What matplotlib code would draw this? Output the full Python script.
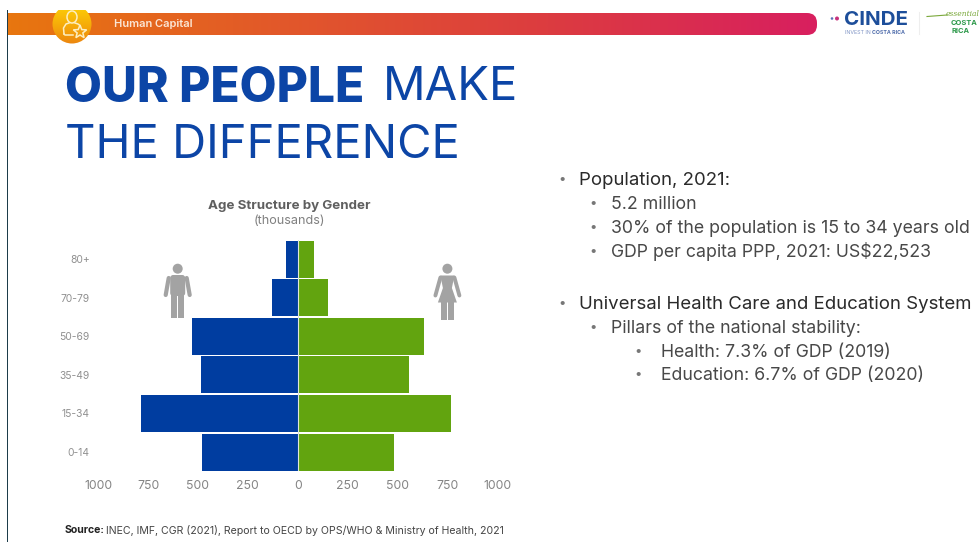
import numpy as np
import matplotlib
matplotlib.use("Agg")
from matplotlib import pyplot as plt
from matplotlib.patches import Circle, Ellipse, FancyBboxPatch, Polygon, Rectangle
from matplotlib.colors import LinearSegmentedColormap

plt.rcParams['font.family'] = ['Inter', 'DejaVu Sans']

age_groups = ['0-14', '15-34', '35-49', '50-69', '70-79', '80+']
men = [480, 785, 485, 532, 127, 59]
women = [483, 767, 558, 633, 153, 82]
x_ticks = [-1000, -750, -500, -250, 0, 250, 500, 750, 1000]
x_labels = ['1000', '750', '500', '250', '0', '250', '500', '750', '1000']

# dot x, baseline y, text x, font size, colour, line
bullets = [
    (562, 185, 579, 13.4, '#2a2a2a', 'Population, 2021:'),
    (593, 209, 611, 12.75, '#484848', '5.2 million'),
    (593, 232.7, 611, 12.75, '#484848', '30% of the population is 15 to 34 years old'),
    (593, 256.7, 611, 12.75, '#484848', 'GDP per capita PPP, 2021: US$22,523'),
    (562, 309, 579, 13.4, '#2a2a2a', 'Universal Health Care and Education System'),
    (593, 332.7, 611, 12.75, '#484848', 'Pillars of the national stability:'),
    (638, 356.7, 661, 12.75, '#484848', 'Health: 7.3% of GDP (2019)'),
    (638, 380, 661, 12.75, '#484848', 'Education: 6.7% of GDP (2020)'),
]

W, H = 980, 542
fig = plt.figure(figsize=(W / 100, H / 100), dpi=100, facecolor='white')

# page layer in pixel units, y pointing down
page = fig.add_axes([0, 0, 1, 1])
page.set_xlim(0, W)
page.set_ylim(H, 0)
page.axis('off')

# header band, square on the left and rounded on the right
band_cmap = LinearSegmentedColormap.from_list('band', ['#e8760f', '#e2582a', '#dc3c40', '#d81f5f'])
band = page.imshow(np.linspace(0, 1, 400).reshape(1, -1), cmap=band_cmap, aspect='auto',
                   extent=(8, 817, 35, 13), zorder=1)
clip = FancyBboxPatch((-20, 13), 837, 22, boxstyle='round,pad=0,rounding_size=10',
                      transform=page.transData, fc='none', ec='none')
page.add_patch(clip)
band.set_clip_path(clip)
page.set_xlim(0, W)
page.set_ylim(H, 0)

# rule down the left edge
page.add_patch(Rectangle((7, 10), 1.3, 532, fc='#1d3c4a', ec='none', zorder=3))

# round badge with a person and a star
gold_cmap = LinearSegmentedColormap.from_list('gold', ['#fbc707', '#f5a80a', '#ec860f'])
badge = page.imshow(np.linspace(0, 1, 100).reshape(-1, 1), cmap=gold_cmap, aspect='auto',
                    extent=(52, 92, 44, 10), zorder=4)
badge_clip = Circle((72, 24), 19.5, transform=page.transData, fc='none', ec='none')
page.add_patch(badge_clip)
badge.set_clip_path(badge_clip)
page.set_xlim(0, W)
page.set_ylim(H, 0)
icon = '#fdeec0'
page.add_patch(Ellipse((72, 17), 10, 12, fc='none', ec=icon, lw=1.1, zorder=5))
page.plot([64, 63.5, 66, 69], [34, 28, 24, 23], color=icon, lw=1.1, zorder=5)
page.plot([75, 78, 80], [23, 24, 25.5], color=icon, lw=1.1, zorder=5)
page.plot([64, 65, 73], [34, 35, 35], color=icon, lw=1.1, zorder=5)
star_a = np.radians(np.arange(10) * 36 - 90)
star_r = np.where(np.arange(10) % 2 == 0, 7, 3)
page.add_patch(Polygon(np.column_stack([80 + star_r * np.cos(star_a), 32 + star_r * np.sin(star_a)]),
                       fc='#f2a00c', ec=icon, lw=1.1, zorder=6))

page.text(114, 24, 'Human Capital', color='#fbe6d5', fontsize=8, fontweight='semibold',
          va='center', ha='left', zorder=5)

# partner logos
page.add_patch(Circle((832, 18.5), 1.3, fc='#5a6fb5', ec='none'))
page.add_patch(Circle((837, 18.5), 2, fc='#c8327c', ec='none'))
page.text(843.5, 20, 'CINDE', color='#1d4e9a', fontsize=14.8, fontweight='bold', va='center', ha='left')
page.text(845, 32.5, 'INVEST IN', color='#7f93c4', fontsize=3.8, va='center', ha='left')
page.text(872, 32.5, 'COSTA RICA', color='#4f6cab', fontsize=3.8, fontweight='bold', va='center', ha='left')
page.plot([919, 919], [12, 34], color='#eeeeee', lw=0.8)
page.text(946, 13.5, 'essential', color='#7aa83a', fontsize=5.4, style='italic', family='DejaVu Serif',
          va='center', ha='left')
page.plot([927, 947], [16.5, 15], color='#7aa83a', lw=0.8)
page.text(951, 23, 'COSTA', color='#2f9a4c', fontsize=5.4, fontweight='bold', va='center', ha='left')
page.text(951, 31, 'RICA', color='#2f9a4c', fontsize=5.4, fontweight='bold', va='center', ha='left')

# headline
navy = '#0c45a6'
page.text(65, 88.5, 'OUR PEOPLE', color=navy, fontsize=34.5, fontweight='extra bold', va='center', ha='left')
page.text(383, 88.5, 'MAKE', color=navy, fontsize=34, fontweight='normal', va='center', ha='left')
page.text(65, 146, 'THE DIFFERENCE', color=navy, fontsize=34, fontweight='normal', va='center', ha='left')

# chart titles
page.text(289, 206, 'Age Structure by Gender', color='#5f5f5f', fontsize=9.6, fontweight='bold',
          ha='center', va='center')
page.text(289, 220.5, '(thousands)', color='#808080', fontsize=9.1, ha='center', va='center')


def draw_person(cx, female):
    grey = '#a3a3a3'
    page.add_patch(Circle((cx, 268.7), 5, fc=grey, ec='none'))
    if female:
        page.add_patch(Polygon([(cx - 7, 275.5), (cx + 7, 275.5), (cx + 4.5, 288), (cx + 9.5, 302.5),
                                (cx - 9.5, 302.5), (cx - 4.5, 288)], fc=grey, ec='none'))
        page.plot([cx - 7, cx - 12], [277.5, 295.5], color=grey, lw=2.8, solid_capstyle='round')
        page.plot([cx + 7, cx + 12], [277.5, 295.5], color=grey, lw=2.8, solid_capstyle='round')
        page.add_patch(Rectangle((cx - 6.5, 302), 5.6, 18, fc=grey, ec='none'))
        page.add_patch(Rectangle((cx + 0.9, 302), 5.6, 18, fc=grey, ec='none'))
    else:
        page.add_patch(FancyBboxPatch((cx - 7.5, 275), 15, 21, boxstyle='round,pad=0,rounding_size=3',
                                      fc=grey, ec='none'))
        page.plot([cx - 9, cx - 12], [278, 295], color=grey, lw=3, solid_capstyle='round')
        page.plot([cx + 9, cx + 12], [278, 295], color=grey, lw=3, solid_capstyle='round')
        page.add_patch(Rectangle((cx - 6.5, 295), 5.9, 23, fc=grey, ec='none'))
        page.add_patch(Rectangle((cx + 0.6, 295), 5.9, 23, fc=grey, ec='none'))


draw_person(177.7, False)
draw_person(447.4, True)

# right hand bullet list
for dot_x, base_y, text_x, size, colour, line in bullets:
    page.text(dot_x, base_y - 5, '•', color='#777777', fontsize=9.5, ha='center', va='center')
    page.text(text_x, base_y, line, color=colour, fontsize=size, ha='left', va='baseline')

page.text(65, 530, 'Source:', color='#222222', fontsize=7.6, fontweight='bold', ha='left', va='center')
page.text(106, 530, 'INEC, IMF, CGR (2021), Report to OECD by OPS/WHO & Ministry of Health, 2021',
          color='#444444', fontsize=7.6, ha='left', va='center')

# population pyramid, axes placed in figure pixels
left, right, top, bottom = 98.2, 497.2, 240, 471.3
ax = fig.add_axes([left / W, 1 - bottom / H, (right - left) / W, (bottom - top) / H])
ax.patch.set_alpha(0)
y = np.arange(len(age_groups))
ax.barh(y, [-m for m in men], height=0.96, color='#003da0', edgecolor='none')
ax.barh(y, women, height=0.96, color='#62a40f', edgecolor='none')
ax.axvline(0, color='#dfe8d8', lw=0.8)
ax.set_xlim(-1000, 1000)
ax.set_ylim(-0.5, 5.5)
ax.set_xticks(x_ticks)
ax.set_xticklabels(x_labels, color='#858585', fontsize=8.8)
ax.set_yticks(y)
ax.set_yticklabels(age_groups, color='#909090', fontsize=7.4)
ax.tick_params(length=0)
ax.tick_params(axis='x', pad=6.5)
ax.tick_params(axis='y', pad=6)
for side in ax.spines.values():
    side.set_visible(False)

fig.savefig('out.png', dpi=100)
